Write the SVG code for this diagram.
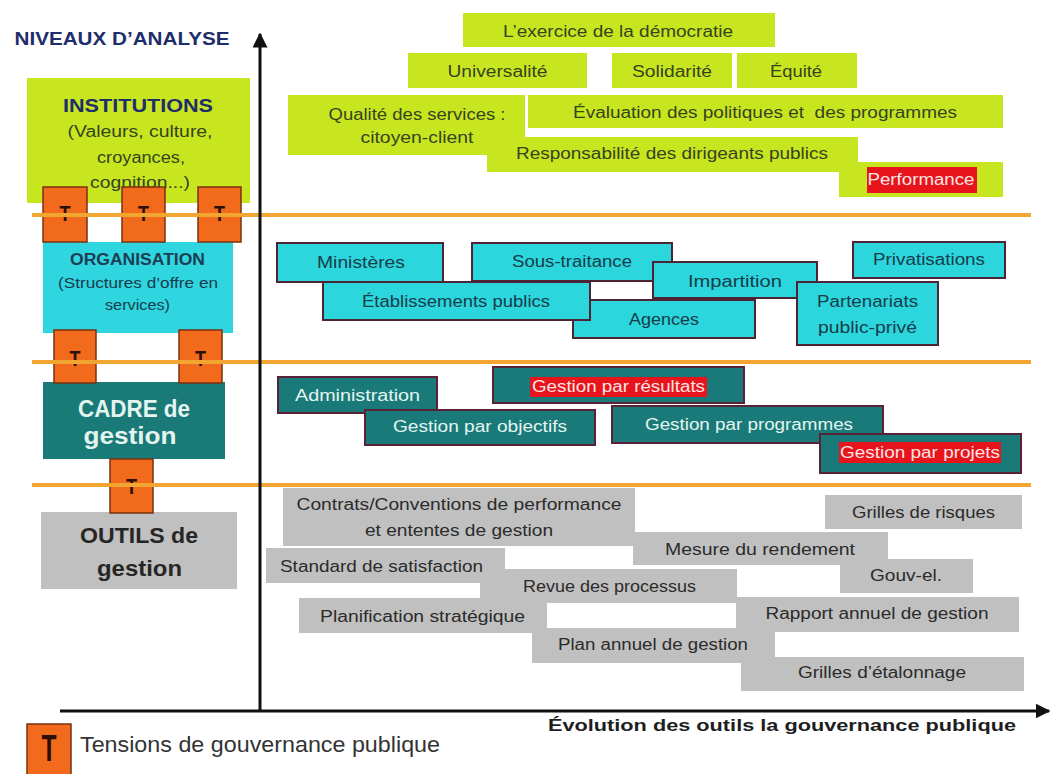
<svg xmlns="http://www.w3.org/2000/svg" width="1051" height="774" viewBox="0 0 1051 774">
<style>
text{font-family:"Liberation Sans",Arial,sans-serif;text-anchor:middle}
.g{fill:#c8e620}
.c{fill:#2bd6dc;stroke:#4f2336;stroke-width:2}
.t{fill:#197a79;stroke:#5a2236;stroke-width:2}
.s{fill:#c0c0c0}
.red{fill:#e8141c}
.tb{fill:#f26a1b;stroke:#7a3010;stroke-width:1.5}
.tg{fill:#36431f;font-size:16px}
.tc{fill:#183c4b;font-size:16px}
.tt{fill:#e4f5f0;font-size:16px}
.tw{fill:#fde4e4;font-size:16px}
.ts{fill:#2b2b2b;font-size:16px}
.tT{fill:#2a1005;font-size:22px;font-weight:bold}
.div{stroke:#f2a531;stroke-width:4}
.ax{stroke:#111;stroke-width:3;fill:none}
</style>
<defs>
<marker id="ah" viewBox="0 0 10 10" refX="9" refY="5" markerWidth="5" markerHeight="5" orient="auto" markerUnits="strokeWidth">
<path d="M0,0 L10,5 L0,10 z" fill="#111"/>
</marker>
</defs>
<rect width="1051" height="774" fill="#fff"/>

<text x="122" y="45" style="fill:#1f2d6b;font-size:19px;font-weight:bold" textLength="215" lengthAdjust="spacingAndGlyphs">NIVEAUX D’ANALYSE</text>

<!-- left level boxes -->
<g id="institutions">
<rect class="g" x="27" y="78" width="223" height="125"/>
<text x="138" y="112" style="fill:#1f2d6b;font-size:19px;font-weight:bold" textLength="150" lengthAdjust="spacingAndGlyphs">INSTITUTIONS</text>
<text x="140" y="137" class="tg" textLength="145" lengthAdjust="spacingAndGlyphs">(Valeurs, culture,</text>
<text x="141" y="163" class="tg" textLength="88" lengthAdjust="spacingAndGlyphs">croyances,</text>
<text x="140" y="188" class="tg" textLength="100" lengthAdjust="spacingAndGlyphs">cognition...)</text>
</g>
<g id="organisation">
<rect x="43" y="242" width="190" height="91" fill="#2fd5df"/>
<text x="137.5" y="265" style="fill:#1d3d55;font-size:16px;font-weight:bold" textLength="135" lengthAdjust="spacingAndGlyphs">ORGANISATION</text>
<text x="138" y="288" class="tc" style="font-size:14px" textLength="160" lengthAdjust="spacingAndGlyphs">(Structures d’offre en</text>
<text x="137.5" y="310" class="tc" style="font-size:14px" textLength="65" lengthAdjust="spacingAndGlyphs">services)</text>
</g>
<g id="cadre">
<rect x="43" y="382" width="182" height="77" fill="#197a78"/>
<text x="134" y="417" style="fill:#e4f5f0;font-size:23px;font-weight:bold" textLength="112" lengthAdjust="spacingAndGlyphs">CADRE de</text>
<text x="130" y="444" style="fill:#e4f5f0;font-size:23px;font-weight:bold" textLength="93" lengthAdjust="spacingAndGlyphs">gestion</text>
</g>
<g id="outils">
<rect x="41" y="512" width="196" height="77" fill="#c0c0c0"/>
<text x="139" y="543" style="fill:#262626;font-size:22px;font-weight:bold" textLength="118" lengthAdjust="spacingAndGlyphs">OUTILS de</text>
<text x="139.5" y="576" style="fill:#262626;font-size:22px;font-weight:bold" textLength="85" lengthAdjust="spacingAndGlyphs">gestion</text>
</g>

<!-- tension markers -->
<g id="tension-1"><rect class="tb" x="43" y="187" width="44" height="55"/><text class="tT" x="65" y="221" textLength="11" lengthAdjust="spacingAndGlyphs">T</text></g>
<g id="tension-2"><rect class="tb" x="122" y="187" width="43" height="55"/><text class="tT" x="143.5" y="221" textLength="11" lengthAdjust="spacingAndGlyphs">T</text></g>
<g id="tension-3"><rect class="tb" x="198" y="187" width="43" height="55"/><text class="tT" x="219.5" y="221" textLength="11" lengthAdjust="spacingAndGlyphs">T</text></g>
<g id="tension-4"><rect class="tb" x="54" y="330" width="42" height="53"/><text class="tT" x="75" y="366" textLength="11" lengthAdjust="spacingAndGlyphs">T</text></g>
<g id="tension-5"><rect class="tb" x="179" y="330" width="43" height="53"/><text class="tT" x="200.5" y="366" textLength="11" lengthAdjust="spacingAndGlyphs">T</text></g>
<g id="tension-6"><rect class="tb" x="110" y="459" width="43" height="54"/><text class="tT" x="131.5" y="494" textLength="11" lengthAdjust="spacingAndGlyphs">T</text></g>

<!-- level dividers -->
<g id="dividers">
<line class="div" x1="32" y1="215" x2="1031" y2="215"/>
<line class="div" x1="32" y1="362" x2="1031" y2="362"/>
<line class="div" x1="32" y1="485" x2="1031" y2="485"/>
</g>

<!-- institutions level -->
<g id="exercice"><rect class="g" x="463" y="13" width="312" height="34"/><text class="tg" x="618" y="37" textLength="230" lengthAdjust="spacingAndGlyphs">L’exercice de la démocratie</text></g>
<g id="universalite"><rect class="g" x="408" y="53" width="179" height="35"/><text class="tg" x="497.5" y="77" textLength="100" lengthAdjust="spacingAndGlyphs">Universalité</text></g>
<g id="solidarite"><rect class="g" x="612" y="53" width="120" height="35"/><text class="tg" x="672" y="77" textLength="80" lengthAdjust="spacingAndGlyphs">Solidarité</text></g>
<g id="equite"><rect class="g" x="737" y="53" width="120" height="35"/><text class="tg" x="796" y="77" textLength="52" lengthAdjust="spacingAndGlyphs">Équité</text></g>
<g id="qualite"><rect class="g" x="288" y="95" width="237" height="60"/><text class="tg" x="417" y="120" textLength="177" lengthAdjust="spacingAndGlyphs">Qualité des services :</text><text class="tg" x="417" y="143" textLength="113" lengthAdjust="spacingAndGlyphs">citoyen-client</text></g>
<g id="evaluation"><rect class="g" x="528" y="95" width="475" height="33"/><text class="tg" x="765" y="118" style="white-space:pre" textLength="384" lengthAdjust="spacingAndGlyphs">Évaluation des politiques et  des programmes</text></g>
<g id="responsabilite"><rect class="g" x="487" y="137" width="371" height="35"/><text class="tg" x="672" y="159" textLength="312" lengthAdjust="spacingAndGlyphs">Responsabilité des dirigeants publics</text></g>
<g id="performance"><rect class="g" x="839" y="162" width="164" height="35"/><rect class="red" x="867" y="167" width="110" height="26"/><text class="tw" x="921" y="185" textLength="107" lengthAdjust="spacingAndGlyphs">Performance</text></g>

<!-- organisation level -->
<g id="ministeres"><rect class="c" x="277" y="243" width="166" height="39"/><text class="tc" x="361" y="268" textLength="88" lengthAdjust="spacingAndGlyphs">Ministères</text></g>
<g id="sous-traitance"><rect class="c" x="472" y="243" width="200" height="38"/><text class="tc" x="572" y="267" textLength="120" lengthAdjust="spacingAndGlyphs">Sous-traitance</text></g>
<g id="agences"><rect class="c" x="573" y="300" width="182" height="38"/><text class="tc" x="664" y="325" textLength="70" lengthAdjust="spacingAndGlyphs">Agences</text></g>
<g id="etablissements"><rect class="c" x="323" y="282" width="267" height="38"/><text class="tc" x="456" y="307" textLength="188" lengthAdjust="spacingAndGlyphs">Établissements publics</text></g>
<g id="impartition"><rect class="c" x="653" y="262" width="164" height="36"/><text class="tc" x="735" y="287" textLength="94" lengthAdjust="spacingAndGlyphs">Impartition</text></g>
<g id="privatisations"><rect class="c" x="853" y="242" width="152" height="36"/><text class="tc" x="929" y="265" textLength="112" lengthAdjust="spacingAndGlyphs">Privatisations</text></g>
<g id="partenariats"><rect class="c" x="797" y="282" width="141" height="63"/><text class="tc" x="867.5" y="307" textLength="101" lengthAdjust="spacingAndGlyphs">Partenariats</text><text class="tc" x="867.5" y="333" textLength="99" lengthAdjust="spacingAndGlyphs">public-privé</text></g>

<!-- cadre de gestion level -->
<g id="administration"><rect class="t" x="278" y="377" width="159" height="36"/><text class="tt" x="357.5" y="401" textLength="125" lengthAdjust="spacingAndGlyphs">Administration</text></g>
<g id="objectifs"><rect class="t" x="365" y="410" width="230" height="35"/><text class="tt" x="480" y="432" textLength="174" lengthAdjust="spacingAndGlyphs">Gestion par objectifs</text></g>
<g id="resultats"><rect class="t" x="493" y="367" width="251" height="36"/><rect class="red" x="530" y="377" width="177" height="20"/><text class="tw" x="618.5" y="392" textLength="173" lengthAdjust="spacingAndGlyphs">Gestion par résultats</text></g>
<g id="programmes"><rect class="t" x="612" y="406" width="271" height="37"/><text class="tt" x="749" y="430" textLength="208" lengthAdjust="spacingAndGlyphs">Gestion par programmes</text></g>
<g id="projets"><rect class="t" x="820" y="434" width="201" height="39"/><rect class="red" x="839" y="442" width="162" height="21"/><text class="tw" x="920" y="458" textLength="160" lengthAdjust="spacingAndGlyphs">Gestion par projets</text></g>

<!-- outils level -->
<g id="contrats"><rect class="s" x="283" y="488" width="352" height="58"/><text class="ts" x="459" y="510" textLength="325" lengthAdjust="spacingAndGlyphs">Contrats/Conventions de performance</text><text class="ts" x="459" y="536" textLength="188" lengthAdjust="spacingAndGlyphs">et ententes de gestion</text></g>
<g id="revue"><rect class="s" x="480" y="569" width="257" height="34"/><text class="ts" x="609.5" y="592" textLength="173" lengthAdjust="spacingAndGlyphs">Revue des processus</text></g>
<g id="standard"><rect class="s" x="266" y="548" width="239" height="35"/><text class="ts" x="381.5" y="572" textLength="203" lengthAdjust="spacingAndGlyphs">Standard de satisfaction</text></g>
<g id="planification"><rect class="s" x="299" y="598" width="248" height="35"/><text class="ts" x="422.5" y="622" textLength="205" lengthAdjust="spacingAndGlyphs">Planification stratégique</text></g>
<g id="grilles-risques"><rect class="s" x="825" y="495" width="197" height="34"/><text class="ts" x="923.5" y="518" textLength="143" lengthAdjust="spacingAndGlyphs">Grilles de risques</text></g>
<g id="gouv-el"><rect class="s" x="840" y="559" width="133" height="34"/><text class="ts" x="906" y="581" textLength="72" lengthAdjust="spacingAndGlyphs">Gouv-el.</text></g>
<g id="mesure"><rect class="s" x="633" y="532" width="255" height="33"/><text class="ts" x="760" y="555" textLength="190" lengthAdjust="spacingAndGlyphs">Mesure du rendement</text></g>
<g id="rapport"><rect class="s" x="736" y="597" width="283" height="35"/><text class="ts" x="877" y="619" textLength="223" lengthAdjust="spacingAndGlyphs">Rapport annuel de gestion</text></g>
<g id="plan-annuel"><rect class="s" x="532" y="628" width="243" height="35"/><text class="ts" x="653" y="650" textLength="190" lengthAdjust="spacingAndGlyphs">Plan annuel de gestion</text></g>
<g id="etalonnage"><rect class="s" x="741" y="657" width="283" height="34"/><text class="ts" x="882" y="678" textLength="168" lengthAdjust="spacingAndGlyphs">Grilles d’étalonnage</text></g>

<!-- axes -->
<g id="connectors">
<line class="ax" x1="260" y1="712" x2="260" y2="34" marker-end="url(#ah)"/>
<line class="ax" x1="60" y1="711" x2="1049" y2="711" marker-end="url(#ah)"/>
</g>
<text x="782" y="731" style="fill:#1e1e1e;font-size:17px;font-weight:bold" textLength="468" lengthAdjust="spacingAndGlyphs">Évolution des outils la gouvernance publique</text>

<!-- legend -->
<g id="legend">
<rect class="tb" x="27" y="724" width="44" height="52"/>
<text x="49" y="761" style="fill:#2a1005;font-size:36px;font-weight:bold" textLength="15" lengthAdjust="spacingAndGlyphs">T</text>
<text x="80" y="752" style="fill:#333;font-size:22px;text-anchor:start" textLength="360" lengthAdjust="spacingAndGlyphs">Tensions de gouvernance publique</text>
</g>
</svg>
